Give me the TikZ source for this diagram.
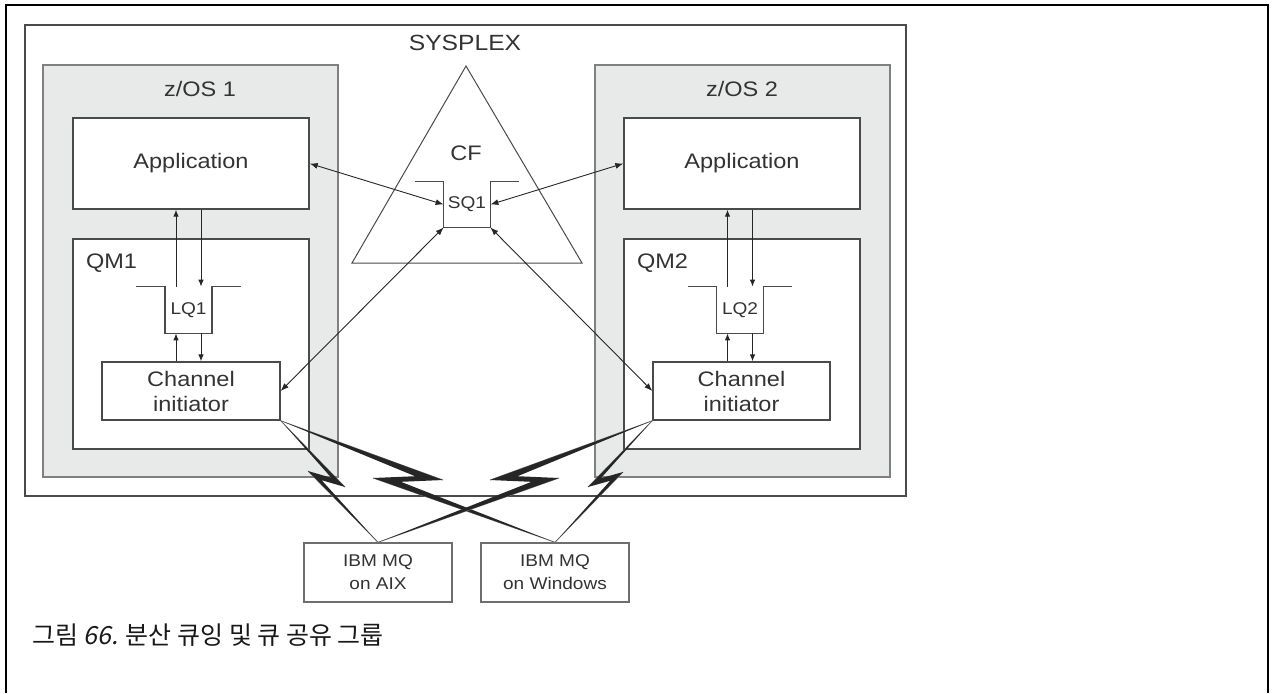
\documentclass[tikz,border=0pt]{standalone}
\usepackage{fontspec}
\setmainfont{Liberation Sans}[FakeStretch=1.12]
\newfontfamily\cjk{Noto Sans CJK KR}
\newfontfamily\cjkslant{Noto Sans CJK KR}[FakeSlant=0.2]
\usetikzlibrary{arrows.meta,calc}

\definecolor{zosfill}{HTML}{E8E9E9}
\definecolor{boxline}{HTML}{4A4A4A}
\definecolor{zosline}{HTML}{808080}
\definecolor{labeltext}{HTML}{333333}

\tikzset{
  bigtext/.style={font=\fontsize{10.5}{12.5}\selectfont, text=labeltext},
  smalltext/.style={font=\fontsize{8.5}{11.5}\selectfont, text=labeltext},
  plainbox/.style={draw=boxline, line width=0.7pt, fill=white, inner sep=0pt},
  zosbox/.style={draw=zosline, line width=0.8pt, fill=zosfill, inner sep=0pt},
  qbody/.style={inner sep=0pt, minimum width=23pt, minimum height=23pt,
    font=\fontsize{8.5}{10}\selectfont, text=labeltext},
  flow/.style={draw=black!85, line width=0.5pt, -{Latex[length=3.5pt,width=2.8pt]}},
  link/.style={draw=black!85, line width=0.45pt,
    {Latex[length=4pt,width=3pt]}-{Latex[length=4pt,width=3pt]}}
}

% queue: open top with two flanges
\newcommand{\queuewalls}[1]{%
  \draw[boxline, line width=0.7pt] ($(#1.north west)+(-29,0)$) -- (#1.north west)
    -- (#1.south west) -- (#1.south east) -- (#1.north east) -- ++(29,0);}
% lightning link: start, tip, back, end, turn of the outer side
\newcommand{\boltlink}[5]{%
  \coordinate (bt) at ($(#2)!0.4!(#3)$);
  \coordinate (bk) at ($(#3)!0.4!(#2)$);
  \coordinate (tin) at ($(bt)!1.5pt!#5:(#3)$);
  \coordinate (kin) at ($(bk)!1.5pt!#5:(#2)$);
  \draw[gray, line width=0.4pt] (#1) -- (#2) (#3) -- (#4);
  \fill[black!85] (#1) -- (#2) -- (kin) -- (#4) -- (#3) -- (tin) -- cycle;}

\begin{document}
\begin{tikzpicture}[x=0.5pt, y=-0.5pt]
  \useasboundingbox (0,0) rectangle (1274,693);

  % Draw sysplex
  \node[plainbox, line width=0.75pt, minimum width=440.5pt, minimum height=235.5pt] (sysplex) at (465.5,260.5) {};
  \node[bigtext, font=\fontsize{11}{13}\selectfont] (sysplexlab) at (465,43) {SYSPLEX};

  % Draw z/OS images
  \node[zosbox, minimum width=147.5pt, minimum height=206pt] (zos1) at (190.5,271) {};
  \node[zosbox, minimum width=147.5pt, minimum height=206pt] (zos2) at (742.5,271) {};
  \node[bigtext] (zos1lab) at (200,89) {z/OS 1};
  \node[bigtext] (zos2lab) at (742,89) {z/OS 2};

  % Draw coupling facility
  \draw[boxline, line width=0.5pt] (466,66) -- (582,263) -- (352,263) -- cycle;
  \node[bigtext] (cf) at (466,153) {CF};
  \node[qbody, minimum height=22.5pt] (sq1) at (467,204.5) {SQ1};
  \queuewalls{sq1}

  % Draw applications
  \node[plainbox, bigtext, minimum width=118pt, minimum height=45.5pt] (app1) at (191,163.5) {Application};
  \node[plainbox, bigtext, minimum width=118pt, minimum height=45.5pt] (app2) at (742,163.5) {Application};

  % Draw queue managers
  \node[plainbox, minimum width=118pt, minimum height=105pt] (qm1) at (191,344) {};
  \node[plainbox, minimum width=118pt, minimum height=105pt] (qm2) at (742,344) {};
  \node[bigtext, anchor=base west] (qm1lab) at (79,268) {QM1};
  \node[bigtext, anchor=base west] (qm2lab) at (630,268) {QM2};

  \node[qbody] (lq1) at (188.5,310) {LQ1};
  \node[qbody] (lq2) at (740,310) {LQ2};
  \queuewalls{lq1}
  \queuewalls{lq2}

  % Draw channel initiators
  \node[plainbox, bigtext, minimum width=89pt, minimum height=29pt, align=center] (ci1) at (191,391) {Channel\\initiator};
  \node[plainbox, bigtext, minimum width=88.5pt, minimum height=29pt, align=center] (ci2) at (741.5,391) {Channel\\initiator};

  % Draw local flows
  \coordinate (lq1l) at ($(lq1.center)+(-12.5,0)$);
  \coordinate (lq1r) at ($(lq1.center)+(12.5,0)$);
  \coordinate (lq2l) at ($(lq2.center)+(-12.5,0)$);
  \coordinate (lq2r) at ($(lq2.center)+(12.5,0)$);
  \draw[flow] (lq1l |- lq1.north) -- (lq1l |- app1.south);
  \draw[flow] (lq1r |- app1.south) -- (lq1r |- lq1.north);
  \draw[flow] (lq1l |- ci1.north) -- (lq1l |- lq1.south);
  \draw[flow] (lq1r |- lq1.south) -- (lq1r |- ci1.north);
  \draw[flow] (lq2l |- lq2.north) -- (lq2l |- app2.south);
  \draw[flow] (lq2r |- app2.south) -- (lq2r |- lq2.north);
  \draw[flow] (lq2l |- ci2.north) -- (lq2l |- lq2.south);
  \draw[flow] (lq2r |- lq2.south) -- (lq2r |- ci2.north);

  % Draw shared queue links
  \draw[link] (app1.east) -- (sq1.west);
  \draw[link] (app2.west) -- (sq1.east);
  \draw[link] (sq1.south west) -- (ci1.east);
  \draw[link] (sq1.south east) -- (ci2.west);

  % Draw remote systems
  \node[plainbox, smalltext, draw=boxline!80, minimum width=74pt, minimum height=29.5pt, align=center] (aix) at (378,572.5) {IBM MQ\\on AIX};
  \node[plainbox, smalltext, draw=boxline!80, minimum width=74pt, minimum height=29.5pt, align=center] (win) at (555,572.5) {IBM MQ\\on Windows};

  % Draw network links
  \coordinate (t1) at (345,487); \coordinate (k1) at (308,471);
  \coordinate (t2) at (443,480); \coordinate (k2) at (373,478);
  \coordinate (t3) at (490,480); \coordinate (k3) at (559,478);
  \coordinate (t4) at (588,487); \coordinate (k4) at (623,472);
  \boltlink{ci1.south east}{t1}{k1}{aix.north}{-90}
  \boltlink{ci1.south east}{t2}{k2}{win.north}{-90}
  \boltlink{ci2.south west}{t3}{k3}{aix.north}{90}
  \boltlink{ci2.south west}{t4}{k4}{win.north}{90}

  % Add caption
  \node[anchor=base west, font=\fontsize{12.5}{15}\selectfont, text=black!90] (caption) at (25,644)
    {\cjk 그림 {\cjkslant 66.} 분산 큐잉 및 큐 공유 그룹};

  % Draw page frame
  \draw[line width=1.4pt] (6,693) -- (6,5) -- (1268,5) -- (1268,693);
\end{tikzpicture}
\end{document}
